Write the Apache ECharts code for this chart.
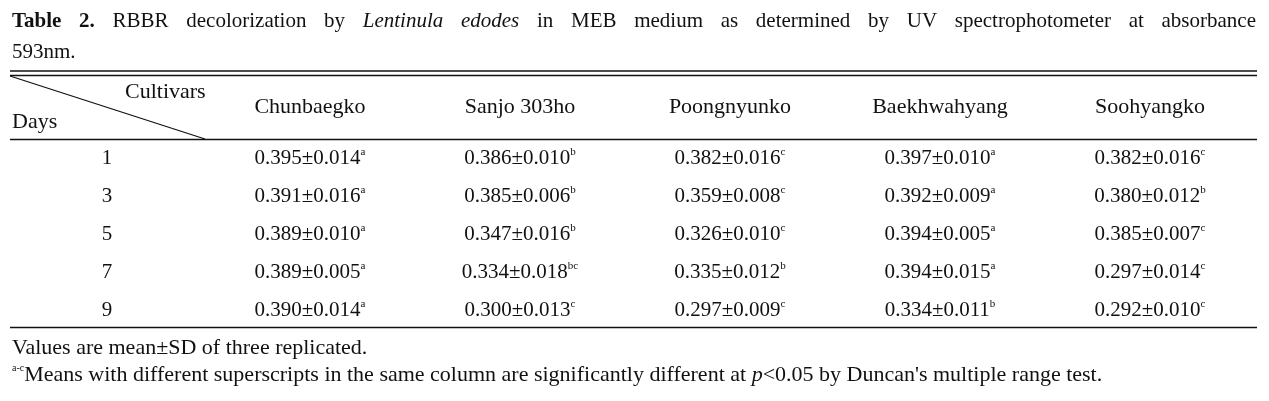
<!DOCTYPE html>
<html><head><meta charset="utf-8">
<script src="https://cdn.jsdelivr.net/npm/echarts@6/dist/echarts.min.js"></script>
<style>html,body{margin:0;padding:0;background:#fff}#c{width:1269px;height:401px}</style>
</head><body><div id="c"></div>
<script>
// ---- data ----
const days = ['1', '3', '5', '7', '9'];
const cultivars = ['Chunbaegko', 'Sanjo 303ho', 'Poongnyunko', 'Baekhwahyang', 'Soohyangko'];
const chunbaegkoMean = [0.395, 0.391, 0.389, 0.389, 0.390];
const chunbaegkoSD   = [0.014, 0.016, 0.010, 0.005, 0.014];
const chunbaegkoSig  = ['a', 'a', 'a', 'a', 'a'];
const sanjoMean = [0.386, 0.385, 0.347, 0.334, 0.300];
const sanjoSD   = [0.010, 0.006, 0.016, 0.018, 0.013];
const sanjoSig  = ['b', 'b', 'b', 'bc', 'c'];
const poongnyunkoMean = [0.382, 0.359, 0.326, 0.335, 0.297];
const poongnyunkoSD   = [0.016, 0.008, 0.010, 0.012, 0.009];
const poongnyunkoSig  = ['c', 'c', 'c', 'b', 'c'];
const baekhwahyangMean = [0.397, 0.392, 0.394, 0.394, 0.334];
const baekhwahyangSD   = [0.010, 0.009, 0.005, 0.015, 0.011];
const baekhwahyangSig  = ['a', 'a', 'a', 'a', 'b'];
const soohyangkoMean = [0.382, 0.380, 0.385, 0.297, 0.292];
const soohyangkoSD   = [0.016, 0.012, 0.007, 0.014, 0.010];
const soohyangkoSig  = ['c', 'b', 'c', 'c', 'c'];

const titleLine1 = 'Table 2. RBBR decolorization by Lentinula edodes in MEB medium as determined by UV spectrophotometer at absorbance';
const titleLine2 = '593nm.';
const note1 = 'Values are mean±SD of three replicated.';
const note2a = 'Means with different superscripts in the same column are significantly different at ';
const note2b = '<0.05 by Duncan\'s multiple range test.';

// ---- build ----
const FONT = '"Liberation Serif", "DejaVu Serif", serif';
const COLOR = '#111111';
const means = [chunbaegkoMean, sanjoMean, poongnyunkoMean, baekhwahyangMean, soohyangkoMean];
const sds = [chunbaegkoSD, sanjoSD, poongnyunkoSD, baekhwahyangSD, soohyangkoSD];
const sigs = [chunbaegkoSig, sanjoSig, poongnyunkoSig, baekhwahyangSig, soohyangkoSig];
const cells = [];
cultivars.forEach((c, ci) => {
  days.forEach((d, ri) => {
    cells.push({ value: [c, d], mean: means[ci][ri], sd: sds[ci][ri], sig: sigs[ci][ri] });
  });
});

const chart = echarts.init(document.getElementById('c'), null, { renderer: 'canvas' });

// justified title line
const mctx = document.createElement('canvas').getContext('2d');
function measure(t, size, weight, style) {
  mctx.font = (style || 'normal') + ' ' + (weight || 'normal') + ' ' + size + 'px ' + FONT;
  return mctx.measureText(t).width;
}
const TS = 21;
const words = titleLine1.split(' ').map(w => ({ t: w, weight: 'normal', style: 'normal' }));
words[0].weight = 'bold'; words[1].weight = 'bold';
words.forEach(w => { if (w.t === 'Lentinula' || w.t === 'edodes') w.style = 'italic'; });
const x0 = 12, x1 = 1256;
let sumW = 0;
words.forEach(w => { w.w = measure(w.t, TS, w.weight, w.style); sumW += w.w; });
const gap = (x1 - x0 - sumW) / (words.length - 1);
const graphics = [];
let cx = x0;
words.forEach(w => {
  graphics.push({ type: 'text', left: cx, top: 11, style: { text: w.t, font: w.style + ' ' + w.weight + ' ' + TS + 'px ' + FONT, fill: COLOR } });
  cx += w.w + gap;
});
graphics.push({ type: 'text', left: 12, top: 42, style: { text: titleLine2, font: 'normal ' + TS + 'px ' + FONT, fill: COLOR } });
// rules
const rule = (y, w) => ({ type: 'line', shape: { x1: 10, y1: y, x2: 1257, y2: y }, style: { stroke: '#111', lineWidth: w } });
graphics.push(rule(71, 1.3), rule(75.5, 1.3), rule(139.5, 1.3), rule(327.5, 1.3));
graphics.push({ type: 'line', shape: { x1: 10, y1: 76, x2: 205, y2: 139 }, style: { stroke: '#111', lineWidth: 1.3 } });
graphics.push({ type: 'text', left: 125, top: 81, style: { text: 'Cultivars', font: '22px ' + FONT, fill: COLOR } });
graphics.push({ type: 'text', left: 12, top: 111, style: { text: 'Days', font: '22px ' + FONT, fill: COLOR } });
graphics.push({ type: 'text', left: 12, top: 337, style: { text: note1, font: '22px ' + FONT, fill: COLOR } });
graphics.push({ type: 'text', left: 12, top: 363, style: {
  text: '{s|a-c}{n|' + note2a + '}{i|p}{n|' + note2b + '}',
  rich: {
    s: { fontSize: 10, fontFamily: FONT, fill: COLOR, verticalAlign: 'top', lineHeight: 25 },
    n: { fontSize: 22, fontFamily: FONT, fill: COLOR, lineHeight: 25 },
    i: { fontSize: 22, fontFamily: FONT, fontStyle: 'italic', fill: COLOR, lineHeight: 25 }
  }
} });

chart.setOption({
  animation: false,
  backgroundColor: '#fff',
  grid: { left: 205, right: 14, top: 139, bottom: 72 },
  xAxis: {
    type: 'category', data: cultivars, position: 'top',
    axisLine: { show: false }, axisTick: { show: false }, splitLine: { show: false },
    axisLabel: { fontFamily: FONT, fontSize: 22, color: COLOR, margin: 32, verticalAlign: 'middle', interval: 0 }
  },
  yAxis: {
    type: 'category', data: days, inverse: true,
    axisLine: { show: false }, axisTick: { show: false }, splitLine: { show: false },
    axisLabel: { fontFamily: FONT, fontSize: 21, color: COLOR, margin: 98, align: 'center' }
  },
  series: [{
    type: 'scatter', symbolSize: 0, itemStyle: { color: COLOR, opacity: 1 },
    data: cells,
    label: {
      show: true, position: 'inside', color: COLOR, textBorderWidth: 0, opacity: 1,
      formatter: p => '{v|' + p.data.mean.toFixed(3) + '±' + p.data.sd.toFixed(3) + '}{s|' + p.data.sig + '}',
      rich: {
        v: { fontFamily: FONT, fontSize: 21, color: COLOR, lineHeight: 22, textBorderWidth: 0 },
        s: { fontFamily: FONT, fontSize: 11, color: COLOR, verticalAlign: 'top', lineHeight: 22, textBorderWidth: 0 }
      }
    }
  }],
  graphic: graphics
});
</script></body></html>
